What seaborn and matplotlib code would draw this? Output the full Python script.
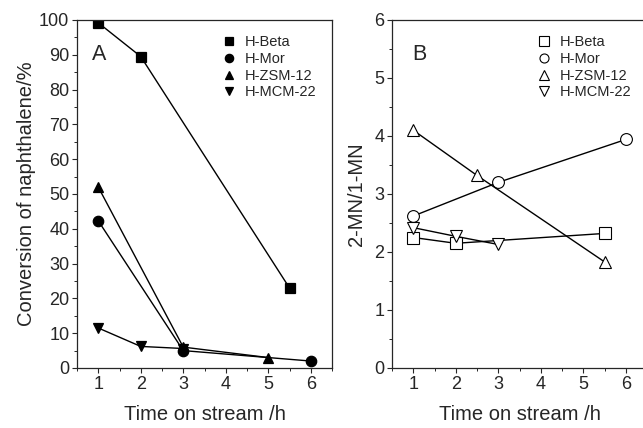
import numpy as np
import pandas as pd
import matplotlib
matplotlib.use("Agg")
import matplotlib.pyplot as plt
from matplotlib.ticker import MultipleLocator
import seaborn as sns

sns.set_style("ticks")
plt.rcParams["font.family"] = ["Liberation Sans", "DejaVu Sans"]

CATALYSTS = ["H-Beta", "H-Mor", "H-ZSM-12", "H-MCM-22"]
MARKERS = {"H-Beta": "s", "H-Mor": "o", "H-ZSM-12": "^", "H-MCM-22": "v"}

# panel A: conversion of naphthalene (%)
conv_time = {
    "H-Beta": [1, 2, 5.5],
    "H-Mor": [1, 3, 6],
    "H-ZSM-12": [1, 3, 5],
    "H-MCM-22": [1, 2, 3],
}
conv_val = {
    "H-Beta": [99.2, 89.5, 23.0],
    "H-Mor": [42.3, 5.0, 2.0],
    "H-ZSM-12": [52.0, 6.0, 3.0],
    "H-MCM-22": [11.5, 6.2, 5.6],
}

# panel B: 2-MN/1-MN ratio
ratio_time = {
    "H-Beta": [1, 2, 5.5],
    "H-Mor": [1, 3, 6],
    "H-ZSM-12": [1, 2.5, 5.5],
    "H-MCM-22": [1, 2, 3],
}
ratio_val = {
    "H-Beta": [2.25, 2.15, 2.32],
    "H-Mor": [2.62, 3.20, 3.94],
    "H-ZSM-12": [4.10, 3.32, 1.83],
    "H-MCM-22": [2.42, 2.27, 2.13],
}


def long_df(times, vals):
    recs = []
    for c in CATALYSTS:
        for t, v in zip(times[c], vals[c]):
            recs.append(dict(catalyst=c, time=t, value=v))
    return pd.DataFrame.from_records(recs)


def draw(ax, df, filled):
    for c in CATALYSTS:
        sub = df[df["catalyst"] == c]
        sns.lineplot(data=sub, x="time", y="value", ax=ax, color="black", lw=1.0,
                     marker=MARKERS[c], markersize=7.5 if filled else 8.5,
                     markerfacecolor="black" if filled else "white",
                     markeredgecolor="black", markeredgewidth=0.9 if filled else 0.8,
                     label=c, legend=True)
    leg = ax.legend(loc="upper right", frameon=False, fontsize=10.5, labelspacing=0.18,
                    handlelength=1.0, handletextpad=0.6, bbox_to_anchor=(0.98, 0.985),
                    borderaxespad=0.3)
    for ln in leg.get_lines():
        ln.set_linestyle("None")
        ln.set_markersize(6 if filled else 6.5)
    ax.set_xlim(0.5, 6.5)
    ax.xaxis.set_major_locator(MultipleLocator(1))
    ax.xaxis.set_minor_locator(MultipleLocator(0.5))
    ax.set_xlabel("Time on stream /h", fontsize=14.5, labelpad=9)
    ax.tick_params(axis="both", which="major", direction="out", length=3.5, width=0.8,
                   labelsize=13, pad=2)
    ax.tick_params(axis="both", which="minor", direction="out", length=2, width=0.7)
    for s in ax.spines.values():
        s.set_linewidth(0.9)
        s.set_visible(True)


fig = plt.figure(figsize=(6.43, 4.28), dpi=100)
axA = fig.add_axes([77 / 643, 60 / 428, 255 / 643, 348 / 428])
axB = fig.add_axes([392 / 643, 60 / 428, 255 / 643, 348 / 428])

draw(axA, long_df(conv_time, conv_val), filled=True)
axA.set_ylim(0, 100)
axA.yaxis.set_major_locator(MultipleLocator(10))
axA.yaxis.set_minor_locator(MultipleLocator(5))
axA.set_ylabel("Conversion of naphthalene/%", fontsize=14.5, labelpad=2)
axA.text(0.06, 0.90, "A", transform=axA.transAxes, fontsize=15.5, va="center", ha="left")

draw(axB, long_df(ratio_time, ratio_val), filled=False)
axB.set_ylim(0, 6)
axB.yaxis.set_major_locator(MultipleLocator(1))
axB.yaxis.set_minor_locator(MultipleLocator(0.5))
axB.set_ylabel("2-MN/1-MN", fontsize=14.5, labelpad=6)
axB.text(0.08, 0.90, "B", transform=axB.transAxes, fontsize=15.5, va="center", ha="left")

fig.savefig("out.png", dpi=100)
